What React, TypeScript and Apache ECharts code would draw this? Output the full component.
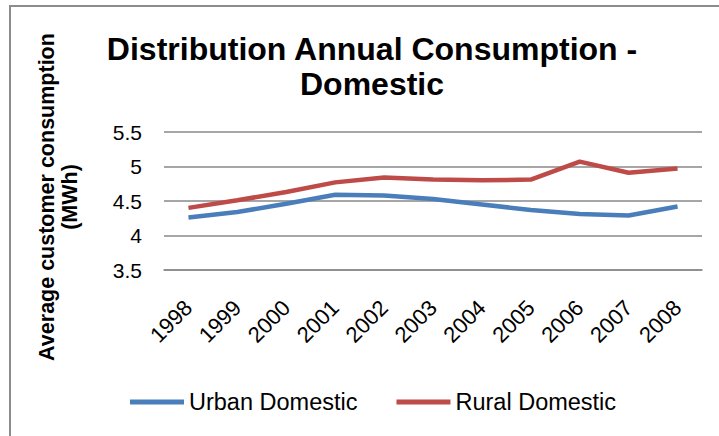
import React, { useEffect, useRef } from "react";
import * as echarts from "echarts";

const years = ["1998", "1999", "2000", "2001", "2002", "2003", "2004", "2005", "2006", "2007", "2008"];
const urbanDomestic = [4.26, 4.34, 4.46, 4.59, 4.58, 4.53, 4.45, 4.37, 4.31, 4.29, 4.42];
const ruralDomestic = [4.4, 4.51, 4.63, 4.77, 4.84, 4.81, 4.8, 4.81, 5.07, 4.91, 4.97];
const seriesNames = ["Urban Domestic", "Rural Domestic"];
const titleText = "Distribution Annual Consumption -\nDomestic";
const yAxisTitle = "Average customer consumption\n(MWh)";

const FONT = "'Liberation Sans', Arial, sans-serif";

export default function App() {
  const ref = useRef<HTMLDivElement>(null);
  useEffect(() => {
    document.body.style.margin = "0";
    const chart = echarts.init(ref.current!, null, { renderer: "svg" });
    chart.setOption({
      animation: false,
      backgroundColor: "#ffffff",
      graphic: [
        {
          type: "rect",
          shape: { x: 10, y: 6, width: 760, height: 480 },
          style: { fill: "none", stroke: "#8c8c8c", lineWidth: 2 },
          silent: true,
        },
        {
          type: "text",
          x: 372,
          y: 31,
          style: {
            text: titleText,
            fontFamily: FONT,
            fontSize: 32,
            fontWeight: "bold",
            fill: "#000000",
            lineHeight: 35,
            align: "center",
            verticalAlign: "top",
          },
        },
      ],
      legend: {
        left: 130,
        top: 390,
        padding: 0,
        itemWidth: 54,
        itemHeight: 5,
        itemGap: 39,
        icon: "rect",
        data: seriesNames,
        textStyle: { fontFamily: FONT, fontSize: 23.5, color: "#000000" },
      },
      grid: { left: 164, right: 17, top: 132, bottom: 166, containLabel: false },
      xAxis: {
        type: "category",
        data: years,
        boundaryGap: true,
        axisLine: { show: true, lineStyle: { color: "#898989", width: 1.5 } },
        axisTick: { show: false },
        axisLabel: {
          rotate: 45,
          margin: 34,
          fontFamily: FONT,
          fontSize: 22,
          color: "#000000",
        },
      },
      yAxis: {
        type: "value",
        min: 3.5,
        max: 5.5,
        interval: 0.5,
        name: yAxisTitle,
        nameLocation: "middle",
        nameRotate: 90,
        nameGap: 83,
        nameTextStyle: {
          fontFamily: FONT,
          fontSize: 21.5,
          fontWeight: "bold",
          color: "#000000",
          lineHeight: 23,
          padding: [0, 0, 0, 8],
        },
        axisLine: { show: false },
        axisTick: { show: false },
        splitLine: { show: true, lineStyle: { color: "#898989", width: 1.5 } },
        axisLabel: {
          margin: 22,
          fontFamily: FONT,
          fontSize: 21,
          color: "#000000",
        },
      },
      series: [
        {
          name: seriesNames[0],
          type: "line",
          data: urbanDomestic,
          showSymbol: false,
          symbol: "none",
          lineStyle: { color: "#4a7ebb", width: 4.5 },
          itemStyle: { color: "#4a7ebb" },
        },
        {
          name: seriesNames[1],
          type: "line",
          data: ruralDomestic,
          showSymbol: false,
          symbol: "none",
          lineStyle: { color: "#be4b48", width: 4.5 },
          itemStyle: { color: "#be4b48" },
        },
      ],
    });
    return () => chart.dispose();
  }, []);
  return (
    <div
      ref={ref}
      style={{ position: "fixed", left: 0, top: 0, width: 719, height: 436 }}
    />
  );
}
